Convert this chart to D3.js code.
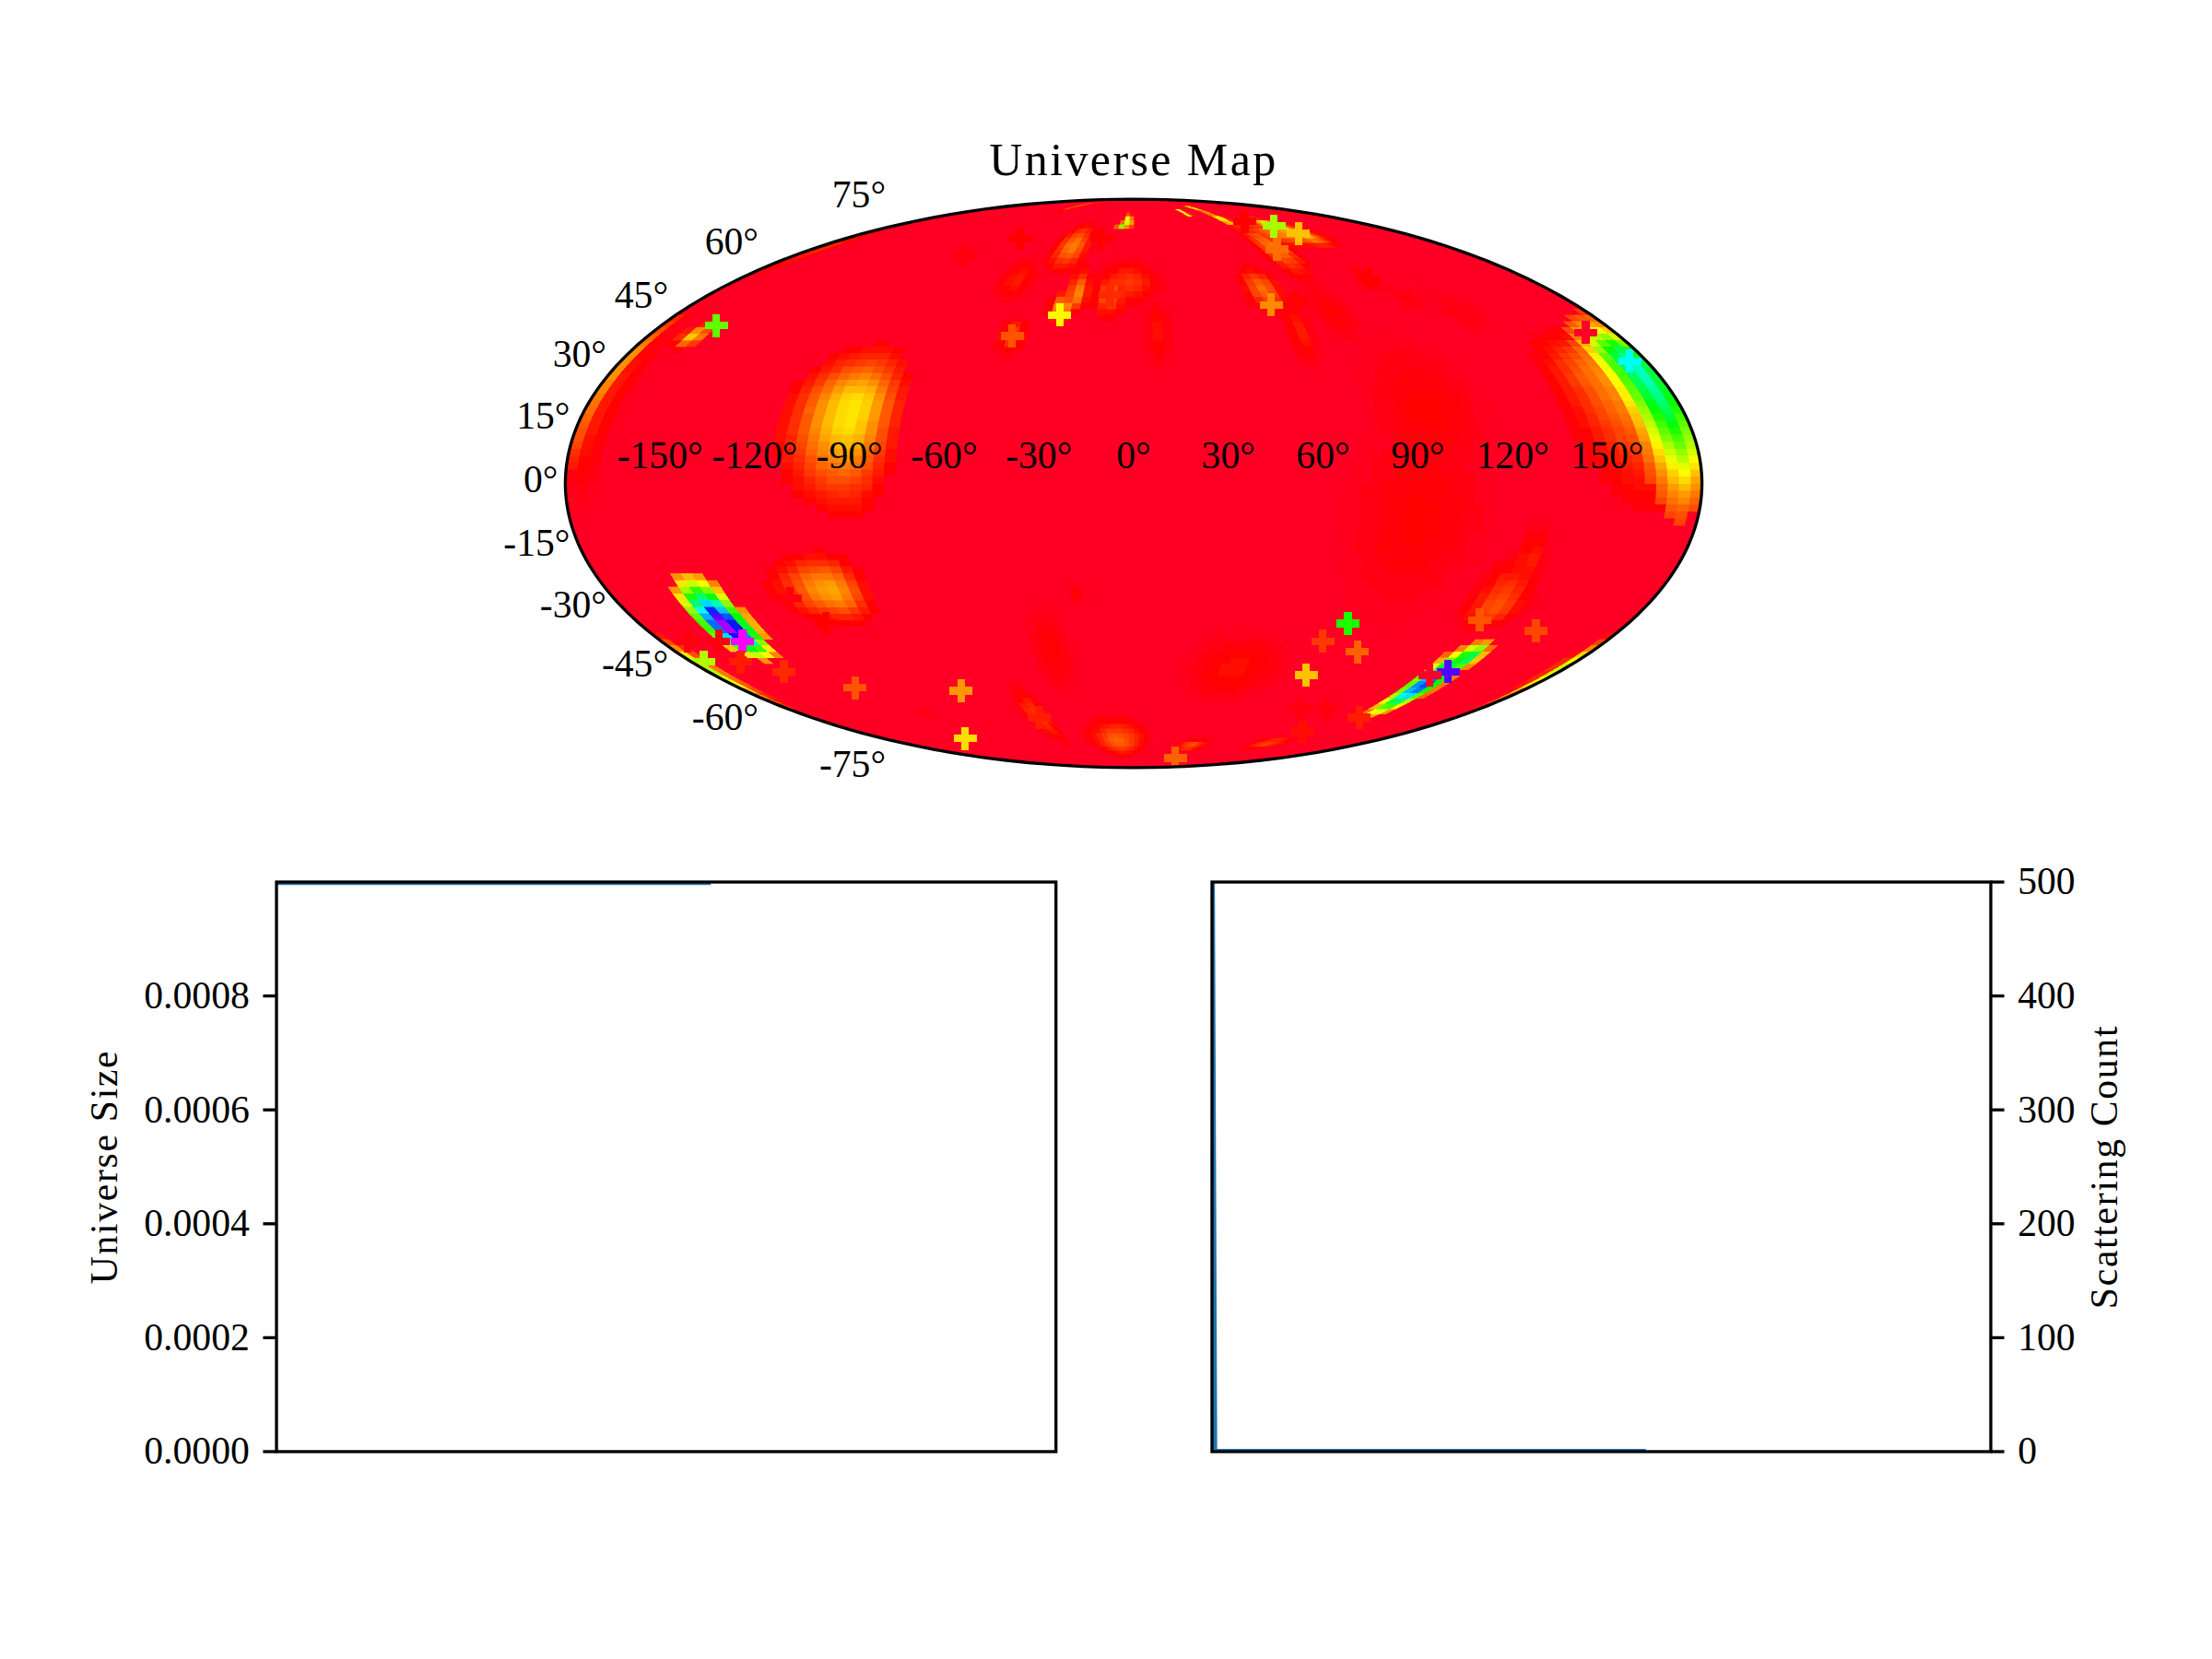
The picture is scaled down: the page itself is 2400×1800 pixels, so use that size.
<!DOCTYPE html>
<html>
<head>
<meta charset="utf-8">
<script src="https://cdn.jsdelivr.net/npm/d3@7"></script>
<style>
html,body{margin:0;padding:0;background:#fff}
text{font-family:"Liberation Serif",serif;fill:#000}
</style>
</head>
<body>
<svg id="fig" width="2400" height="1800" viewBox="0 0 2400 1800"></svg>
<script>
// ---------- data ----------
const mapTitle = "Universe Map";
const lonTicks = [-150,-120,-90,-60,-30,0,30,60,90,120,150];
const latTicks = [-75,-60,-45,-30,-15,0,15,30,45,60,75];

// hotspots of the map: centre (deg), peak on the 0..1 colour scale, extent (deg) on each side
const spotLon   = [ 176, 165,-181,-92,-103,-149,130,134,180,
  -163,-29,-24,-35,-45,-10,-2,-53,9,-90,-176,-4,-10,53,76,-82,
  105,110,80,76,100,78,56,67,62,79,107,115,130,96,91,
  -11,-53,-32,47,105,127,130,-112,-19,42,-175];
const spotLat   = [  31,  28,  33, 19, -28, -38,-55,-47,-50,
   39, 47, 51, 67, 39, 51,55, 56,40,64,  66,77, 75,81,83, 85,
   75, 72,67,78, 72,66,53,49,41,46, 56, 50, 46, 19,-9,
  -75,-66,-45,-77,-76,-33,-20,-64,-29,-50,20];
const spotPeak  = [ .55, .14, .36, .20, .15, .90,.75,.50,.30,
  .18,.16,.13,.12,.08,.10,.07,.05,.04,.02,.06,.38,.38,.38,.38,.10,
  .26,.18,.12,.24,.13,.10,.11,.025,.05,.03,.03,.02,.02,.03,.03,
  .10,.07,.03,.09,.08,.09,.05,.02,.025,.04,.05];
const spotWest  = [ 9, 13, 1,12, 11,5.6,4.5,4,3,
   3,3,3,6,3,4,8,5,3,4,2.5,1.6,1.6,1.6,1.6,3,
   6,6,5,3,14,5,5,2,3,5,3,4,6,12,14,
   12,4,5,7,8,6,3,3,2,12,4];
const spotEast  = [3.4, 10, 2, 9, 7,5.6,4.5,3.2,4,
   3,3,3,6,3,4,8,5,3,4,3,1.6,1.6,1.6,1.6,3,
   6,6,5,3,14,5,5,2,3,5,3,4,6,12,14,
   12,4,5,7,8,6,3,3,2,12,4];
const spotSouth = [20.6, 18, 20, 14, 5, 5, 6, 3, 7,
   2,2,3,5,3,4,4,4,6,2,5,2,1,1,1,2,
   2,3,5,2,3,6,4,2,6,6,3,3,4,12,16,
   4,6,8,1.5,1.5,3,6,2,2,6,15];
const spotNorth = [ 7, 7, 8, 9, 5.5, 7.5, 6, 3, 5,
   2,3,5,5,3,4,4,4,6,2,5,2,1,1,1,2,
   2,3,5,2,3,6,4,2,6,6,3,3,4,12,16,
   5,6,8,1.5,1.5,8,6,2,2,6,15];

// plus-shaped marks: position (deg) and level on the 0..1 colour scale
const crossLon = [-149,-160,-148,-127,-80,-121,-112,51,-159,-29, 78,88,72,74,133,125,149,109,126,105,110,80,-45,56,-10,-53,
   174,-175,-119,-158,-170,127,33,-71,-20,91,169,-90,100,87,67,107,115];
const crossLat = [ -42, -48, -51,-56,-57,-74,-37,-83, 42, 45,-37,-45,-42,-52,-51,-36,-39,-71,-66,75,72,66, 39,48,51,-66,
    32, -48, -30, -42, -42,-52,-42, 70, 70,77,  40, 64,-63,-63,49,56,50];
const crossVal = [ .95, .05, .06,.09,.14,.19,.03,.10,.33,.21,.38,.10,.07,.17,.83,.09,.08,.04,.05,.28,.17,.11,.09,.13,.06,.05,
   .58, .27, .02, .02, .02,0,.015,.03,.03,.03,0,.02,.02,.02,.025,.03,.02];

// lower panels
const iterations = [0, 3, 557];
const universeSize = [0.001, 0.001, 0.001];
const scatteringCount = [500, 0, 0];
const sizeTicks = [0, 0.0002, 0.0004, 0.0006, 0.0008];
const countTicks = [0, 100, 200, 300, 400, 500];
const sizeLabel = "Universe Size";
const countLabel = "Scattering Count";

// ---------- style ----------
const FONT = 41.67, TITLE = 50, LW = 3.33, TICK = 14.6, LINE = "#1f77b4";
const svg = d3.select("#fig");

// gist_rainbow colour map
const rainbow = d3.scaleLinear()
  .domain([0,.03,.215,.4,.586,.77,.954,1])
  .range(["#ff0029","#ff0000","#ffff00","#00ff00","#00ffff","#0000ff","#ff00ff","#ff00bf"])
  .clamp(true);

// Mollweide as a d3 projection
function mollweideRaw(lambda, phi){
  let t = phi;
  if (Math.abs(Math.abs(phi)-Math.PI/2) > 1e-9) {
    const k = Math.PI*Math.sin(phi);
    for (let n=0;n<50;n++){
      const d = (2*t+Math.sin(2*t)-k)/(2+2*Math.cos(2*t));
      t -= d; if (Math.abs(d)<1e-9) break;
    }
  }
  return [2*Math.SQRT2/Math.PI*lambda*Math.cos(t), Math.SQRT2*Math.sin(t)];
}
const projection = d3.geoProjection(mollweideRaw).scale(218).translate([1230,524.5]).precision(.1);
const geoPath = d3.geoPath(projection);

// clip
svg.append("clipPath").attr("id","globe").append("path").attr("d",geoPath({type:"Sphere"}));
const map = svg.append("g").attr("clip-path","url(#globe)");
map.append("path").attr("d",geoPath({type:"Sphere"})).attr("fill",rainbow(0.004));

// field on a lon/lat grid
const NX=100, NY=100, DX=360/NX, DY=180/NY;
function fieldAt(lon,lat){
  let v=0;
  for(let k=0;k<spotLon.length;k++){
    let dl=lon-spotLon[k];
    if(dl>180)dl-=360; if(dl<-180)dl+=360;
    const dp=lat-spotLat[k];
    const a=dl/(dl<0?spotWest[k]:spotEast[k]), b=dp/(dp<0?spotSouth[k]:spotNorth[k]);
    const r2=a*a+b*b;
    if(r2<4) v=Math.max(v,spotPeak[k]*Math.exp(-r2/2));
  }
  return v;
}
const edge=l=>Math.min(l,179.9999);
const LEVELS=128;
const bins=d3.range(LEVELS).map(()=>[]);
for(let i=0;i<NY;i++){
  for(let j=0;j<NX;j++){
    const lon0=-180+j*DX, lat0=-90+i*DY;
    const v=fieldAt(lon0+DX/2,lat0+DY/2);
    if(v<0.006) continue;
    const lon1=edge(lon0+DX);
    const corners=[[lon0,lat0],[lon1,lat0],[lon1,lat0+DY],[lon0,lat0+DY]].map(c=>projection(c));
    const lvl=Math.min(LEVELS-1,Math.round(v*(LEVELS-1)));
    bins[lvl].push("M"+corners.map(c=>c[0].toFixed(2)+","+c[1].toFixed(2)).join("L")+"Z");
  }
}
bins.forEach((b,lvl)=>{
  if(!b.length) return;
  const c=rainbow(lvl/(LEVELS-1));
  map.append("path").attr("d",b.join("")).attr("fill",c).attr("stroke",c).attr("stroke-width",.4).attr("shape-rendering","crispEdges");
});

// plus marks
const crossShape=d3.symbol(d3.symbolCross,347)();
map.selectAll("path.cross").data(crossLon).join("path").attr("class","cross")
  .attr("d",crossShape)
  .attr("transform",(d,i)=>{const p=projection([d,crossLat[i]]);return `translate(${p[0]},${p[1]})`;})
  .attr("fill",(d,i)=>rainbow(crossVal[i]))
  .attr("shape-rendering","crispEdges");

// outline
svg.append("path").attr("d",geoPath({type:"Sphere"})).attr("fill","none").attr("stroke","#000").attr("stroke-width",LW);

// map labels
svg.append("text").attr("x",1230).attr("y",190).attr("text-anchor","middle").attr("font-size",TITLE).attr("letter-spacing","2.4px").text(mapTitle);
svg.append("g").selectAll("text").data(lonTicks).join("text")
  .attr("x",d=>projection([d,0])[0]).attr("y",508)
  .attr("text-anchor","middle").attr("font-size",FONT).text(d=>d+"°");
svg.append("g").selectAll("text").data(latTicks).join("text")
  .attr("x",d=>projection([-180,d])[0]-8)
  .attr("y",d=>projection([-180,d])[1]-0.39*d-4.5+14)
  .attr("text-anchor","end").attr("font-size",FONT).text(d=>d+"°");

// lower panels
const PY=d3.scaleLinear().range([1575,957]);
function panel(x0,x1,yDomain,ticks,fmt,values,side,label,labelX){
  const x=d3.scaleLinear().domain([0,1000]).range([x0,x1]);
  const y=PY.copy().domain(yDomain);
  const id="clip"+x0;
  svg.append("clipPath").attr("id",id).append("rect").attr("x",x0).attr("y",957).attr("width",x1-x0).attr("height",618);
  const line=d3.line().x((d,i)=>x(iterations[i])).y(d=>y(d));
  svg.append("path").attr("d",line(values)).attr("fill","none").attr("stroke",LINE).attr("stroke-width",6.25)
    .attr("clip-path",`url(#${id})`);
  const axis=(side==="left"?d3.axisLeft(y):d3.axisRight(y)).tickValues(ticks).tickFormat(fmt)
    .tickSize(TICK).tickSizeOuter(0).tickPadding(TICK).offset(0);
  const g=svg.append("g").attr("transform",`translate(${side==="left"?x0:x1},0)`).call(axis);
  g.select(".domain").remove();
  g.selectAll(".tick line").attr("stroke","#000").attr("stroke-width",LW);
  g.selectAll(".tick text").attr("font-size",FONT).attr("font-family",'"Liberation Serif",serif').attr("fill","#000").attr("dy","0.32em");
  svg.append("rect").attr("x",x0).attr("y",957).attr("width",x1-x0).attr("height",618)
    .attr("fill","none").attr("stroke","#000").attr("stroke-width",LW);
  svg.append("text").attr("transform",`translate(${labelX},1266) rotate(-90)`).attr("text-anchor","middle")
    .attr("font-size",FONT).attr("letter-spacing","1.7px").text(label);
}
panel(300,1145.7,[0,0.001],sizeTicks,d3.format(".4f"),universeSize,"left",sizeLabel,127);
panel(1315,2160,[0,500],countTicks,d3.format("d"),scatteringCount,"right",countLabel,2297);
</script>
</body>
</html>
